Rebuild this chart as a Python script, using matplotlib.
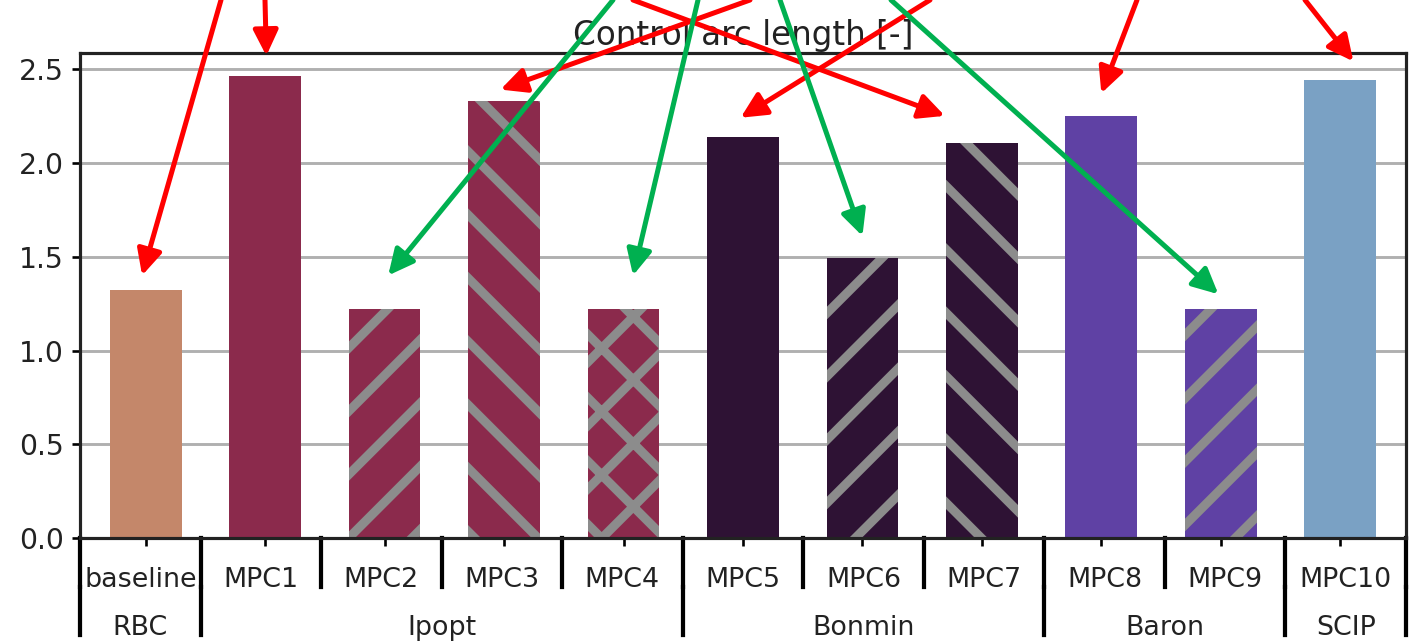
import matplotlib
matplotlib.use("Agg")
import matplotlib.pyplot as plt

# =========================
# Data
# =========================
controllers = ["baseline", "MPC1", "MPC2", "MPC3", "MPC4", "MPC5",
               "MPC6", "MPC7", "MPC8", "MPC9", "MPC10"]
solvers = ["RBC", "Ipopt", "Ipopt", "Ipopt", "Ipopt", "Bonmin",
           "Bonmin", "Bonmin", "Baron", "Baron", "SCIP"]
arc_length = [1.32, 2.46, 1.22, 2.33, 1.22, 2.135, 1.495, 2.105, 2.25, 1.222, 2.443]
hatches = ["", "", "//", "\\\\", "xx", "", "//", "\\\\", "", "//", ""]

solver_colors = {"RBC": "#c4876a", "Ipopt": "#8b2a4c", "Bonmin": "#2e1234",
                 "Baron": "#5f41a4", "SCIP": "#7aa1c4"}

# annotation arrows: tip in data coords, tail x at top of figure (px)
red_tips = [(-0.03, 1.40), (1.01, 2.57), (2.97, 2.39), (6.69, 2.25),
            (4.98, 2.24), (8.0, 2.37), (10.11, 2.54)]
red_tails = [221, 265, 750, 633, 930, 1137, 1305]
green_tips = [(2.03, 1.40), (4.08, 1.40), (6.0, 1.61), (8.98, 1.30)]
green_tails = [613, 698, 780, 891]

# =========================
# Figure
# =========================
DPI = 380
plt.rcParams["hatch.linewidth"] = 1.7
plt.rcParams["font.family"] = "DejaVu Sans"

fig = plt.figure(figsize=(1421 / DPI, 641 / DPI), dpi=DPI)
ax = fig.add_axes([0.0563, 0.1602, 0.9331, 0.7566])

x = list(range(len(controllers)))
for i in x:
    ax.bar(i, arc_length[i], width=0.6, color=solver_colors[solvers[i]],
           hatch=hatches[i], edgecolor="#8c8c8c", linewidth=0, zorder=2)

ax.set_xlim(-0.55, len(controllers) - 1 + 0.55)
ax.set_axisbelow(True)
ax.yaxis.grid(True, color="#b0b0b0", linewidth=0.55)
ax.set_title("Control arc length [-]", fontsize=6.2, pad=1.5, color="#222222")

for sp in ax.spines.values():
    sp.set_linewidth(0.6)
    sp.set_color("#222222")

ax.set_xticks(x)
ax.tick_params(axis="both", length=1.6, width=0.5, pad=1.5, labelsize=5.35,
               labelcolor="#222222")
ax.tick_params(axis="x", labelbottom=False)

# =========================
# Grouped labels below the axis
# =========================
n = len(controllers)
scale = 1.0 / n
LABEL_FS = 5.1


def add_line(xpos, y0, y1):
    ax.plot([xpos, xpos], [y0, y1], transform=ax.transAxes, color="black",
            lw=0.8, clip_on=False)


# controllers level
for i, name in enumerate(controllers):
    ax.text((i + 0.5) * scale, -0.1, name, ha="center", fontsize=LABEL_FS,
            color="#222222", transform=ax.transAxes)
    add_line(i * scale, 0, -0.1)
add_line(n * scale, 0, -0.1)

# solvers level
pos = 0
while pos < n:
    label = solvers[pos]
    span = 1
    while pos + span < n and solvers[pos + span] == label:
        span += 1
    ax.text((pos + 0.5 * span) * scale, -0.2, label, ha="center", fontsize=LABEL_FS,
            color="#222222", transform=ax.transAxes)
    add_line(pos * scale, -0.1, -0.2)
    pos += span
add_line(n * scale, -0.1, -0.2)

# =========================
# Arrows
# =========================
H = 641
for tips, tails, col in [(red_tips, red_tails, "#ff0000"),
                         (green_tips, green_tails, "#00b050")]:
    for (tx, ty), px in zip(tips, tails):
        ax.annotate("", xy=(tx, ty), xycoords="data",
                    xytext=(px, H), textcoords="figure pixels",
                    arrowprops=dict(arrowstyle="-|>,head_length=0.45,head_width=0.22",
                                    color=col, lw=0.95, mutation_scale=9,
                                    shrinkA=0, shrinkB=0),
                    annotation_clip=False, zorder=10)

fig.savefig("out.png", dpi=DPI)
